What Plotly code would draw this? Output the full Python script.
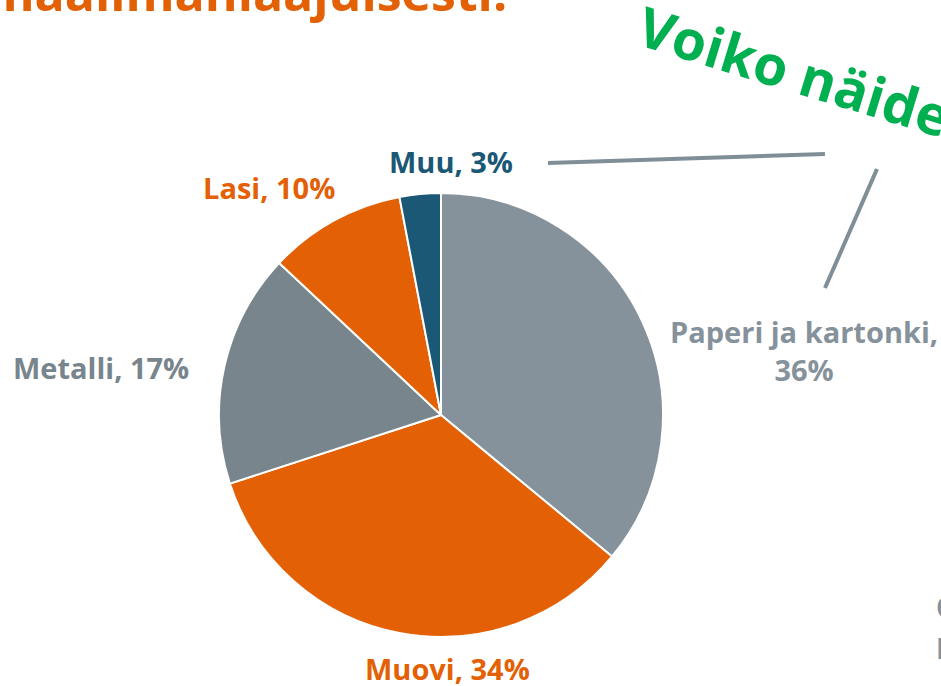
import plotly.graph_objects as go

W, H = 941, 686

categories = ["Paperi ja kartonki", "Muovi", "Metalli", "Lasi", "Muu"]
shares = [36, 34, 17, 10, 3]
slice_colors = ["#85929B", "#E36005", "#78858C", "#E36005", "#1B5876"]
label_colors = ["#85929B", "#E36005", "#78858C", "#E36005", "#1B5876"]
# label centre positions in pixels (layout only)
label_pos = [(804, 350), (447, 668), (101, 367), (269, 187), (451, 161)]
label_breaks = ["<br>", " ", " ", " ", " "]

title_text = "Pakkausjätteen koostumus maailmanlaajuisesti."
question_text = "Voiko näiden määrää vähentää?"
side_lines = ["Osuus", "Lähde"]


def px(x):
    return x / W


def py(y):
    return 1 - y / H


cx, cy, r = 441, 415, 222

fig = go.Figure()
fig.add_trace(go.Pie(
    labels=categories,
    values=shares,
    sort=False,
    direction="clockwise",
    rotation=0,
    marker=dict(colors=slice_colors, line=dict(color="white", width=2)),
    textinfo="none",
    hoverinfo="label+percent",
    domain=dict(x=[px(cx - r), px(cx + r)], y=[py(cy + r), py(cy - r)]),
    showlegend=False,
))

annotations = []
for cat, val, col, (lx, ly), br in zip(categories, shares, label_colors, label_pos, label_breaks):
    annotations.append(dict(
        text=f"{cat},{br}{val}%",
        x=px(lx), y=py(ly), xref="paper", yref="paper",
        xanchor="center", yanchor="middle", align="center",
        showarrow=False,
        font=dict(family="Open Sans", size=29, color=col, weight="bold"),
    ))

# cut-off slide title (only its lower part is visible)
annotations.append(dict(
    text=title_text, x=px(509), y=py(-8), xref="paper", yref="paper",
    xanchor="right", yanchor="middle", showarrow=False,
    font=dict(family="Open Sans", size=50, color="#E36005", weight="bold"),
))
# rotated green question
annotations.append(dict(
    text=question_text, x=px(1063), y=py(153), xref="paper", yref="paper",
    xanchor="center", yanchor="middle", showarrow=False, textangle=17,
    font=dict(family="Open Sans", size=55, color="#00B050", weight="bold"),
))
# cut-off side text at bottom right
for txt, yy in zip(side_lines, [607, 648]):
    annotations.append(dict(
        text=txt, x=px(934), y=py(yy), xref="paper", yref="paper",
        xanchor="left", yanchor="middle", showarrow=False, align="left",
        font=dict(family="Open Sans", size=28, color="#85929B", weight="bold"),
    ))

shapes = [
    dict(type="line", xref="paper", yref="paper",
         x0=px(548), y0=py(163), x1=px(825), y1=py(154),
         line=dict(color="#808E98", width=4)),
    dict(type="line", xref="paper", yref="paper",
         x0=px(877), y0=py(169), x1=px(825), y1=py(288),
         line=dict(color="#808E98", width=4)),
]

fig.update_layout(
    width=W, height=H,
    margin=dict(l=0, r=0, t=0, b=0),
    paper_bgcolor="white", plot_bgcolor="white",
    annotations=annotations, shapes=shapes,
    showlegend=False,
)

fig.write_html("out.html")
